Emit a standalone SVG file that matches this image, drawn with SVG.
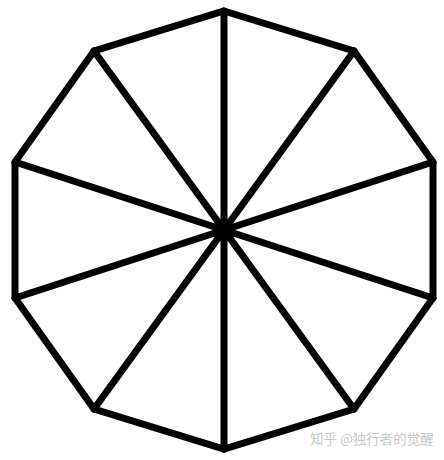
<svg xmlns="http://www.w3.org/2000/svg" width="444" height="460" viewBox="0 0 444 460">
<style>
.edge{fill:none;stroke:#000;stroke-width:7;stroke-linejoin:miter;stroke-linecap:round}
.wm{font-family:"Noto Sans CJK SC","Liberation Sans",sans-serif;font-size:13.5px;fill:#c8c8c8}
</style>
<rect width="444" height="460" fill="#fff"/>
<g id="decagon">
<polygon class="edge" points="224,11 354,51 433,162 433,298 354,409 224,449 94,409 15,298 15,162 94,51"/>
</g>
<g id="connectors">
<path class="edge" d="M224,230L224,11M224,230L354,51M224,230L433,162M224,230L433,298M224,230L354,409M224,230L224,449M224,230L94,409M224,230L15,298M224,230L15,162M224,230L94,51"/>
</g>
<text class="wm" x="310" y="444">知乎 @独行者的觉醒</text>
</svg>
